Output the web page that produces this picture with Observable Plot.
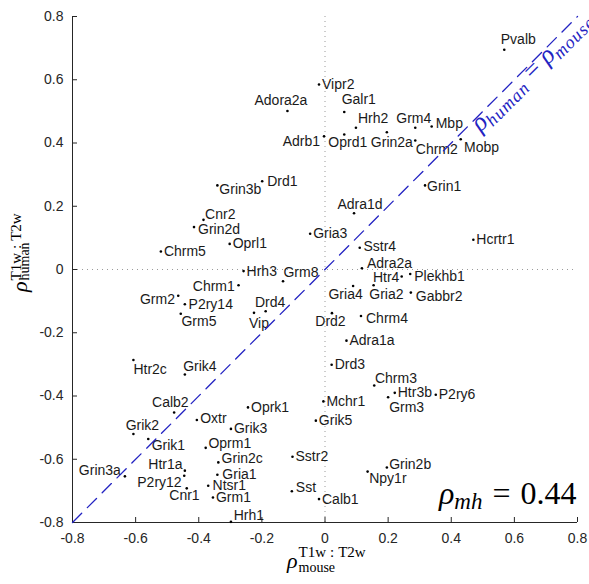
<!DOCTYPE html>
<html><head><meta charset="utf-8">
<script src="https://cdn.jsdelivr.net/npm/d3@7"></script>
<script src="https://cdn.jsdelivr.net/npm/@observablehq/plot@0.6"></script>
<style>html,body{margin:0;padding:0;background:#fff;overflow:hidden;} svg{overflow:hidden;}</style>
</head><body><div id="chart"></div>
<script>
// ---------- data ----------
const genes = ["Pvalb","Vipr2","Adora2a","Galr1","Hrh2","Grm4","Mbp","Adrb1","Oprd1","Grin2a","Chrm2","Mobp","Drd1","Grin3b","Grin1","Adra1d","Cnr2","Grin2d","Gria3","Hcrtr1","Oprl1","Sstr4","Chrm5","Adra2a","Hrh3","Plekhb1","Htr4","Grm8","Chrm1","Gria4","Gria2","Gabbr2","Grm2","P2ry14","Drd4","Vip","Grm5","Drd2","Chrm4","Adra1a","Htr2c","Drd3","Grik4","Chrm3","Htr3b","P2ry6","Grm3","Mchr1","Oprk1","Calb2","Oxtr","Grik5","Grik3","Grik2","Grik1","Oprm1","Sstr2","Grin2c","Grin2b","Htr1a","Npy1r","Gria1","P2ry12","Grin3a","Ntsr1","Cnr1","Sst","Grm1","Calb1","Hrh1"];
const mouseRho = [0.568,-0.019,-0.119,0.061,0.098,0.286,0.338,-0.003,0.061,0.196,0.286,0.430,-0.199,-0.341,0.317,0.092,-0.385,-0.415,-0.047,0.470,-0.302,0.110,-0.520,0.117,-0.258,0.270,0.243,-0.133,-0.274,0.089,0.154,0.272,-0.465,-0.444,-0.188,-0.225,-0.457,0.022,0.114,0.068,-0.607,0.021,-0.444,0.156,0.221,0.351,0.200,-0.005,-0.244,-0.478,-0.406,-0.029,-0.298,-0.607,-0.560,-0.378,-0.103,-0.338,0.196,-0.444,0.135,-0.341,-0.446,-0.634,-0.370,-0.438,-0.105,-0.355,-0.019,-0.298];
const humanRho = [0.695,0.585,0.501,0.498,0.448,0.448,0.452,0.421,0.427,0.434,0.408,0.412,0.279,0.266,0.266,0.178,0.157,0.134,0.113,0.094,0.081,0.069,0.057,0.004,-0.005,-0.014,-0.022,-0.037,-0.050,-0.052,-0.050,-0.073,-0.083,-0.110,-0.132,-0.137,-0.140,-0.138,-0.147,-0.225,-0.286,-0.301,-0.332,-0.367,-0.390,-0.396,-0.404,-0.417,-0.436,-0.452,-0.476,-0.478,-0.504,-0.520,-0.536,-0.564,-0.592,-0.610,-0.626,-0.636,-0.639,-0.649,-0.652,-0.654,-0.684,-0.692,-0.701,-0.721,-0.726,-0.798];
const xTicks = [-0.8,-0.6,-0.4,-0.2,0,0.2,0.4,0.6,0.8];
const xTickLabels = ["-0.8","-0.6","-0.4","-0.2","0","0.2","0.4","0.6","0.8"];
const yTicks = [-0.8,-0.6,-0.4,-0.2,0,0.2,0.4,0.6,0.8];
const yTickLabels = ["-0.8","-0.6","-0.4","-0.2","0","0.2","0.4","0.6","0.8"];
const rhoMH = "0.44";

// ---------- layout (label nudges in px: anchor, dx, dy) ----------
const labelPlacement = {
  Adora2a:["middle",-6.5,-11], Adrb1:["end",-4,5], Grin3b:["start",2,4], Drd1:["start",5,0],
  Pvalb:["middle",14,-10], Galr1:["middle",14.5,-12], Hrh2:["start",2,-9], Oprd1:["middle",3.5,8.5],
  Grin2a:["middle",5,10.5], Grm4:["middle",-1.5,-9], Mbp:["start",4,-3.5], Chrm2:["start",0.5,9.3],
  Mobp:["start",3.3,8], Grin1:["start",2,1], Cnr2:["start",1.6,-5], Grin2d:["start",4,2.3],
  Grm8:["start",0.4,-9], Chrm1:["end",-3.7,1], Grm2:["end",-3.3,4], P2ry14:["start",3.7,0],
  Grm5:["start",0.7,7.7], Drd4:["middle",4.5,-8.7], Vip:["middle",5,10.4], Htr2c:["start",0,10],
  Adra1d:["middle",6,-8.7], Sstr4:["start",3.7,-1], Adra2a:["start",5,-5], Htr4:["end",-2.3,1.3],
  Plekhb1:["start",4,2.7], Gria4:["middle",-7.5,9], Gria2:["middle",12.8,9.6], Gabbr2:["start",5,4],
  Drd2:["middle",-1.5,8], Chrm4:["start",5,2.4], Grik4:["middle",15,-8], Calb2:["middle",-3.8,-10],
  Oxtr:["start",3.3,-2], Grik2:["middle",9,-8.3], Grik1:["start",3.4,6.7], Oprm1:["start",2.7,-4.6],
  Grin2c:["start",3.3,-3.4], Htr1a:["end",-2.3,-6], Grin3a:["end",-4,-5.7], P2ry12:["end",-2.6,6.7],
  Gria1:["start",5,-0.7], Ntsr1:["start",4.4,0], Cnr1:["middle",-2.3,7.3], Hrh1:["start",2.7,-6.3],
  Sst:["start",4,-4], Chrm3:["start",0.7,-6.7], Grm3:["start",1,10], Grin2b:["start",2.3,-2.7],
  Npy1r:["start",1.6,7.3]
};

const W = 589, H = 584, mL = 72, mR = 12, mT = 16, mB = 62;
const plotW = W - mL - mR, plotH = H - mT - mB;
const TICK = 5;
const SANS = "'Liberation Sans', Arial, Helvetica, sans-serif";
const SERIF = "'Liberation Serif', 'DejaVu Serif', serif";
const BLUE = "#2323c2";
const AXIS = "#262626";

const DIAG_TEXT = "ρhuman = ρmouse";
const MH_TEXT = "ρmh = " + rhoMH;
const SUP_TEXT = "T1w:T2w";

const idx = genes.map((_, i) => i);
const labelMarks = idx.map(i => {
  const [anchor, dx, dy] = labelPlacement[genes[i]] || ["start", 3, 0];
  return Plot.text([i], {
    x: j => mouseRho[j], y: j => humanRho[j], text: j => genes[j],
    textAnchor: anchor, dx, dy, lineAnchor: "middle",
    fontFamily: SANS, fontSize: 14, fill: "#1a1a1a"
  });
});

const diag = [xTicks[0], xTicks[xTicks.length - 1]];

const svg = Plot.plot({
  width: W, height: H,
  marginLeft: mL, marginRight: mR, marginTop: mT, marginBottom: mB,
  style: {fontFamily: SANS, fontSize: "14px", background: "#fff", overflow: "hidden"},
  x: {domain: [xTicks[0], xTicks[xTicks.length - 1]]},
  y: {domain: [yTicks[0], yTicks[yTicks.length - 1]]},
  marks: [
    Plot.ruleX([0], {stroke: "#9a9a9a", strokeDasharray: "1,4", strokeWidth: 1}),
    Plot.ruleY([0], {stroke: "#9a9a9a", strokeDasharray: "1,4", strokeWidth: 1}),
    Plot.ruleX([xTicks[0]], {stroke: AXIS}),
    Plot.ruleY([yTicks[0]], {stroke: AXIS}),
    Plot.tickX(xTicks, {x: d => d, insetTop: plotH - TICK, stroke: AXIS}),
    Plot.tickY(yTicks, {y: d => d, insetRight: plotW - TICK, stroke: AXIS}),
    Plot.axisX(xTicks, {tickSize: 0, tickPadding: 11, label: null, fontSize: 14, color: AXIS,
      tickFormat: d => xTickLabels[xTicks.indexOf(d)]}),
    Plot.axisY(yTicks, {anchor: "left", tickSize: 0, tickPadding: 9, label: null, fontSize: 14, color: AXIS,
      tickFormat: d => yTickLabels[yTicks.indexOf(d)]}),
    Plot.dot(idx, {x: i => mouseRho[i], y: i => humanRho[i], r: 1.3, fill: "#000", stroke: null}),
    ...labelMarks,
    Plot.line(diag, {x: d => d, y: d => d, stroke: BLUE, strokeWidth: 1.3, strokeDasharray: "13,8"}),
    // diagonal annotation
    Plot.text([DIAG_TEXT], {frameAnchor: "top-right", text: d => d,
      rotate: -45, textAnchor: "start", lineAnchor: "bottom", dx: -97, dy: 116,
      fontFamily: SERIF, fontSize: 26, fill: BLUE}),
    // correlation annotation
    Plot.text([MH_TEXT], {frameAnchor: "bottom-right", text: d => d,
      textAnchor: "end", lineAnchor: "bottom", dx: -1, dy: -19,
      fontFamily: SERIF, fontSize: 32, fill: "#000"}),
    // x label
    Plot.text(["ρ"], {frameAnchor: "bottom-left", text: d => d, textAnchor: "end", lineAnchor: "bottom",
      dx: 225, dy: 45, fontFamily: SERIF, fontStyle: "italic", fontSize: 22, fill: "#000"}),
    Plot.text([SUP_TEXT], {frameAnchor: "bottom-left", text: d => d, textAnchor: "start", lineAnchor: "bottom",
      dx: 226, dy: 34.7, fontFamily: SERIF, fontSize: 15, fill: "#000"}),
    Plot.text(["mouse"], {frameAnchor: "bottom-left", text: d => d, textAnchor: "start", lineAnchor: "bottom",
      dx: 226, dy: 49.5, fontFamily: SERIF, fontSize: 14, fill: "#000"}),
    // y label (rotated)
    Plot.text(["ρ"], {frameAnchor: "left", text: d => d, textAnchor: "end", lineAnchor: "bottom", rotate: -90,
      dx: 26 - mL, dy: 12, fontFamily: SERIF, fontStyle: "italic", fontSize: 22, fill: "#000"}),
    Plot.text([SUP_TEXT], {frameAnchor: "left", text: d => d, textAnchor: "start", lineAnchor: "bottom", rotate: -90,
      dx: 20.5 - mL, dy: 11, fontFamily: SERIF, fontSize: 15, fill: "#000"}),
    Plot.text(["human"], {frameAnchor: "left", text: d => d, textAnchor: "start", lineAnchor: "bottom", rotate: -90,
      dx: 28.5 - mL, dy: 11, fontFamily: SERIF, fontSize: 14, fill: "#000"})
  ]
});

// rich text (sub/superscripts) for the math annotations
function rich(key, parts) {
  const t = [...svg.querySelectorAll("text")].find(e => e.textContent === key);
  if (!t) return;
  t.textContent = "";
  let shift = 0;
  for (const p of parts) {
    const ts = document.createElementNS("http://www.w3.org/2000/svg", "tspan");
    ts.textContent = p.t;
    const dy = (p.dy || 0) - shift; shift = p.dy || 0;
    if (dy) ts.setAttribute("dy", dy);
    if (p.dx) ts.setAttribute("dx", p.dx);
    if (p.size) ts.setAttribute("font-size", p.size);
    if (p.italic) ts.setAttribute("font-style", "italic");
    if (p.ls) ts.setAttribute("letter-spacing", p.ls);
    t.appendChild(ts);
  }
}
rich(DIAG_TEXT, [
  {t: "ρ", size: 26, italic: true},
  {t: "human", size: 18, italic: true, dy: 5, ls: 1},
  {t: "=", size: 26, dx: 7},
  {t: "ρ", size: 26, italic: true, dx: 7},
  {t: "mouse", size: 18, italic: true, dy: 5, ls: 1}
]);
rich(MH_TEXT, [
  {t: "ρ", size: 32, italic: true},
  {t: "mh", size: 23, italic: true, dy: 5},
  {t: "=", size: 32, dx: 10},
  {t: rhoMH, size: 32, dx: 10}
]);
// widen the relation spacing around the colon in the superscripts
for (const t of [...svg.querySelectorAll("text")].filter(e => e.textContent === SUP_TEXT)) {
  t.textContent = "";
  ["T1w", ":", "T2w"].forEach((s, k) => {
    const ts = document.createElementNS("http://www.w3.org/2000/svg", "tspan");
    ts.textContent = s;
    if (k > 0) ts.setAttribute("dx", 4);
    t.appendChild(ts);
  });
}

document.getElementById("chart").appendChild(svg);
</script>
</body></html>
